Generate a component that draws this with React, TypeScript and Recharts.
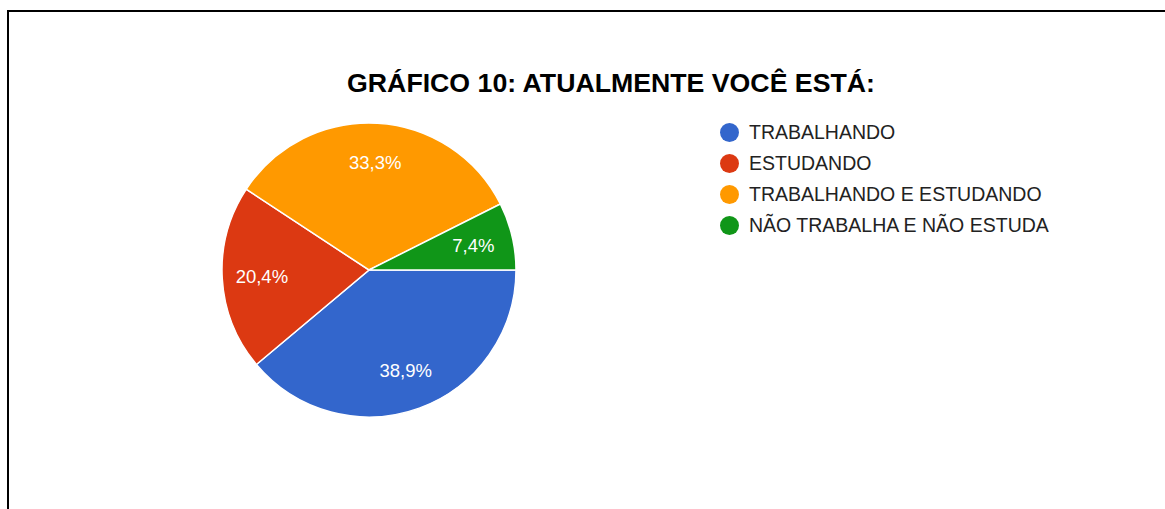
import { PieChart, Pie, Cell, Legend } from "recharts";

const categories = [
    "TRABALHANDO",
    "ESTUDANDO",
    "TRABALHANDO E ESTUDANDO",
    "NÃO TRABALHA E NÃO ESTUDA",
];
const counts = [21, 11, 18, 4];
const colors = ["#3366cc", "#dc3912", "#ff9900", "#109618"];

const data = categories.map((name, i) => ({ name, value: counts[i] }));

const RADIAN = Math.PI / 180;
const FONT = "'Liberation Sans', Arial, sans-serif";

const renderLabel = (props: any) => {
    const { cx, cy, midAngle, outerRadius, percent } = props;
    const r = outerRadius * 0.73;
    const x = cx + r * Math.cos(-midAngle * RADIAN);
    const y = cy + r * Math.sin(-midAngle * RADIAN);
    return (
        <text
            x={x}
            y={y}
            fill="#ffffff"
            textAnchor="middle"
            dominantBaseline="central"
            fontFamily={FONT}
            fontSize={18.5}
        >
            {(percent * 100).toFixed(1).replace(".", ",") + "%"}
        </text>
    );
};

// keep the legend in the data order (recharts sorts it by name)
const renderLegend = (props: any) => {
    const items = [...(props.payload || [])].sort(
        (a: any, b: any) => categories.indexOf(a.value) - categories.indexOf(b.value)
    );
    return (
        <div>
            {items.map((entry: any, i: number) => (
                <div
                    key={i}
                    style={{ display: "flex", alignItems: "center", height: 31 }}
                >
                    <span
                        style={{
                            display: "inline-block",
                            width: 19,
                            height: 19,
                            borderRadius: "50%",
                            background: entry.color,
                            marginRight: 10,
                        }}
                    />
                    <span style={{ fontFamily: FONT, fontSize: 19.5, color: "#222222" }}>
                        {entry.value}
                    </span>
                </div>
            ))}
        </div>
    );
};

const App = () => {
    return (
        <div style={{ position: "absolute", left: 0, top: 0, width: 1165, height: 509, background: "#fff" }}>
            <div
                style={{
                    position: "absolute",
                    left: 7,
                    top: 10,
                    width: 1165,
                    height: 509,
                    borderLeft: "2px solid #000",
                    borderTop: "2px solid #000",
                }}
            />
            <div
                style={{
                    position: "absolute",
                    left: 0,
                    width: 1222,
                    top: 69.5,
                    textAlign: "center",
                    fontFamily: FONT,
                    fontWeight: "bold",
                    fontSize: 26.7,
                    lineHeight: 1,
                    color: "#000",
                    whiteSpace: "nowrap",
                }}
            >
                GRÁFICO 10: ATUALMENTE VOCÊ ESTÁ:
            </div>
            <div style={{ position: "absolute", left: 0, top: 0 }}>
                <PieChart width={1165} height={509} margin={{ top: 0, right: 0, bottom: 0, left: 0 }}>
                    <Pie
                        data={data}
                        dataKey="value"
                        nameKey="name"
                        cx={369}
                        cy={270}
                        outerRadius={147}
                        startAngle={0}
                        endAngle={-360}
                        stroke="#ffffff"
                        strokeWidth={1.5}
                        label={renderLabel}
                        labelLine={false}
                        isAnimationActive={false}
                    >
                        {data.map((d, i) => (
                            <Cell key={d.name} fill={colors[i]} />
                        ))}
                    </Pie>
                    <Legend
                        content={renderLegend}
                        wrapperStyle={{ position: "absolute", left: 720, top: 117, width: 440 }}
                    />
                </PieChart>
            </div>
        </div>
    );
};

export default App;
